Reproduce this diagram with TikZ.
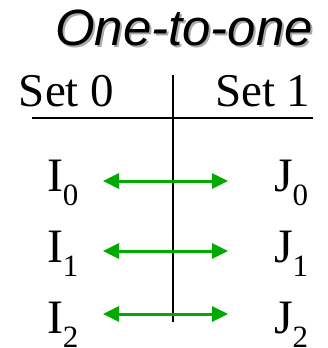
\documentclass[tikz,border=0pt]{standalone}
\usepackage{fontspec}
\setmainfont{Liberation Serif}
\newfontfamily\titlefont{Liberation Sans}
\usetikzlibrary{arrows.meta}
\definecolor{arrgreen}{RGB}{0,170,0}
\definecolor{shadowgray}{RGB}{170,170,170}
\tikzset{
  txt/.style={inner sep=0pt, outer sep=0pt, anchor=base west},
  settxt/.style={txt, font=\fontsize{47}{47}\selectfont},
  elem/.style={txt, font=\fontsize{48}{48}\selectfont},
  rule/.style={line width=2pt, black},
  link/.style={line width=3pt, arrgreen, {Triangle[length=16pt,width=15pt]}-{Triangle[length=16pt,width=15pt]}}
}
\newcommand{\sbs}[1]{\raisebox{-14pt}{\fontsize{31}{31}\selectfont #1}}
\begin{document}
\begin{tikzpicture}[x=1pt,y=-1pt]
\useasboundingbox (0,0) rectangle (328,348);
% title with shadow
\node[txt, text=shadowgray, font=\titlefont\itshape\fontsize{51}{51}\selectfont] (titleshadow) at (57,47) {One-to-one};
\node[txt, font=\titlefont\itshape\fontsize{51}{51}\selectfont] (title) at (55,45) {One-to-one};
% headers
\node[settxt] (set0) at (19,106) {Set 0};
\node[settxt] (set1) at (215,106) {Set 1};
% rules
\coordinate (hl) at (32,118);
\coordinate (hr) at (313,118);
\coordinate (vt) at (173,75);
\coordinate (vb) at (173,322);
\draw[rule] (hl) -- (hr);
\draw[rule, line width=1.6pt] (vt) -- (vb);
% elements
\node[elem] (I0) at (47,191) {I\sbs{0}};
\node[elem] (I1) at (47,262) {I\sbs{1}};
\node[elem] (I2) at (47,333) {I\sbs{2}};
\node[elem] (J0) at (274,191) {J\sbs{0}};
\node[elem] (J1) at (274,262) {J\sbs{1}};
\node[elem] (J2) at (274,333) {J\sbs{2}};
% arrows
\coordinate (a0l) at (103,181); \coordinate (a0r) at (228,181);
\coordinate (a1l) at (103,251); \coordinate (a1r) at (228,251);
\coordinate (a2l) at (103,314); \coordinate (a2r) at (228,314);
\draw[link] (a0l) -- (a0r);
\draw[link] (a1l) -- (a1r);
\draw[link] (a2l) -- (a2r);
\end{tikzpicture}
\end{document}
